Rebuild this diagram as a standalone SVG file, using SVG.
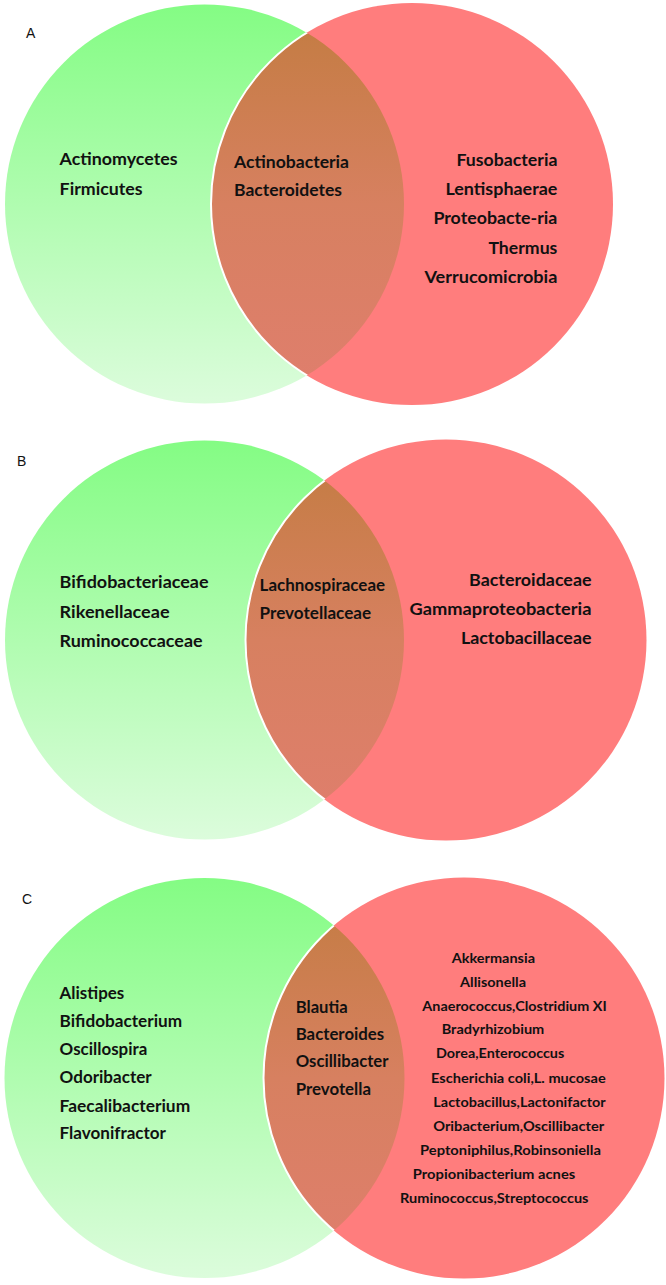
<svg xmlns="http://www.w3.org/2000/svg" width="666" height="1285" viewBox="0 0 666 1285">
<defs>
<linearGradient id="gGreen" x1="0" y1="0" x2="0" y2="1">
<stop offset="0" stop-color="#84fc84"/>
<stop offset="1" stop-color="#dcfcdc"/>
</linearGradient>
<linearGradient id="gOver" x1="0" y1="0" x2="0" y2="1">
<stop offset="0" stop-color="#c27c40"/>
<stop offset="0.5" stop-color="#d78060"/>
<stop offset="1" stop-color="#e07e6e"/>
</linearGradient>
<clipPath id="clipA"><circle cx="204.5" cy="204" r="199.5"/></clipPath>
<clipPath id="clipB"><circle cx="204.5" cy="640" r="199.5"/></clipPath>
<clipPath id="clipC"><circle cx="204.5" cy="1078" r="200"/></clipPath>
</defs>
<style>
.green{fill:url(#gGreen);}
.red{fill:#ff7d7d;}
.over{fill:url(#gOver);}
.rim{fill:none;stroke:#ffffff;stroke-width:2;}
.t{font-family:Lato,"Open Sans","Liberation Sans",sans-serif;font-weight:bold;font-size:17px;fill:#111111;}
.s{font-family:Lato,"Open Sans","Liberation Sans",sans-serif;font-weight:bold;font-size:14px;fill:#111111;}
.lbl{font-family:"Liberation Sans",Arial,sans-serif;font-size:14px;fill:#111111;}
</style>
<rect width="666" height="1285" fill="#ffffff"/>

<g id="panel-a">
<text class="lbl" x="26" y="38">A</text>
<g id="a-left">
<circle class="green" cx="204.5" cy="204" r="199.5"/>
</g>
<g id="a-right">
<circle class="red" cx="412" cy="204" r="201"/>
</g>
<g id="a-overlap">
<circle class="over" cx="412" cy="204" r="201" clip-path="url(#clipA)"/>
<circle class="rim" cx="412" cy="204" r="201" clip-path="url(#clipA)"/>
</g>
<g id="a-left-text">
<text class="t" x="59.6" y="165" textLength="118" lengthAdjust="spacingAndGlyphs">Actinomycetes</text>
<text class="t" x="59.6" y="195" textLength="83" lengthAdjust="spacingAndGlyphs">Firmicutes</text>
</g>
<g id="a-overlap-text">
<text class="t" x="234" y="168" textLength="115" lengthAdjust="spacingAndGlyphs">Actinobacteria</text>
<text class="t" x="234" y="196" textLength="108" lengthAdjust="spacingAndGlyphs">Bacteroidetes</text>
</g>
<g id="a-right-text">
<text class="t" x="456.4" y="166" textLength="101" lengthAdjust="spacingAndGlyphs">Fusobacteria</text>
<text class="t" x="445.4" y="195" textLength="112" lengthAdjust="spacingAndGlyphs">Lentisphaerae</text>
<text class="t" x="433.4" y="224" textLength="124" lengthAdjust="spacingAndGlyphs">Proteobacte-ria</text>
<text class="t" x="488.4" y="254" textLength="69" lengthAdjust="spacingAndGlyphs">Thermus</text>
<text class="t" x="424.4" y="283" textLength="133" lengthAdjust="spacingAndGlyphs">Verrucomicrobia</text>
</g>
</g>

<g id="panel-b">
<text class="lbl" x="17" y="466">B</text>
<g id="b-left">
<circle class="green" cx="204.5" cy="640" r="199.5"/>
</g>
<g id="b-right">
<circle class="red" cx="446" cy="640" r="200.5"/>
</g>
<g id="b-overlap">
<circle class="over" cx="446" cy="640" r="200.5" clip-path="url(#clipB)"/>
<circle class="rim" cx="446" cy="640" r="200.5" clip-path="url(#clipB)"/>
</g>
<g id="b-left-text">
<text class="t" x="59.6" y="588" textLength="149" lengthAdjust="spacingAndGlyphs">Bifidobacteriaceae</text>
<text class="t" x="59.6" y="618" textLength="110" lengthAdjust="spacingAndGlyphs">Rikenellaceae</text>
<text class="t" x="59.6" y="647" textLength="143" lengthAdjust="spacingAndGlyphs">Ruminococcaceae</text>
</g>
<g id="b-overlap-text">
<text class="t" x="259.6" y="591" textLength="125.5" lengthAdjust="spacingAndGlyphs">Lachnospiraceae</text>
<text class="t" x="259.6" y="619" textLength="111.5" lengthAdjust="spacingAndGlyphs">Prevotellaceae</text>
</g>
<g id="b-right-text">
<text class="t" x="469" y="586" textLength="122.5" lengthAdjust="spacingAndGlyphs">Bacteroidaceae</text>
<text class="t" x="409.5" y="615" textLength="182" lengthAdjust="spacingAndGlyphs">Gammaproteobacteria</text>
<text class="t" x="460.9" y="644" textLength="130.6" lengthAdjust="spacingAndGlyphs">Lactobacillaceae</text>
</g>
</g>

<g id="panel-c">
<text class="lbl" x="22" y="904">C</text>
<g id="c-left">
<circle class="green" cx="204.5" cy="1078" r="200"/>
</g>
<g id="c-right">
<circle class="red" cx="464" cy="1078" r="200.5"/>
</g>
<g id="c-overlap">
<circle class="over" cx="464" cy="1078" r="200.5" clip-path="url(#clipC)"/>
<circle class="rim" cx="464" cy="1078" r="200.5" clip-path="url(#clipC)"/>
</g>
<g id="c-left-text">
<text class="t" x="59.6" y="999" textLength="64.7" lengthAdjust="spacingAndGlyphs">Alistipes</text>
<text class="t" x="59.6" y="1027" textLength="122.5" lengthAdjust="spacingAndGlyphs">Bifidobacterium</text>
<text class="t" x="59.6" y="1055" textLength="87.7" lengthAdjust="spacingAndGlyphs">Oscillospira</text>
<text class="t" x="59.6" y="1083" textLength="92" lengthAdjust="spacingAndGlyphs">Odoribacter</text>
<text class="t" x="59.6" y="1112" textLength="130.6" lengthAdjust="spacingAndGlyphs">Faecalibacterium</text>
<text class="t" x="59.6" y="1139" textLength="106.4" lengthAdjust="spacingAndGlyphs">Flavonifractor</text>
</g>
<g id="c-overlap-text">
<text class="t" x="295.7" y="1013" textLength="52" lengthAdjust="spacingAndGlyphs">Blautia</text>
<text class="t" x="295.7" y="1040" textLength="88.5" lengthAdjust="spacingAndGlyphs">Bacteroides</text>
<text class="t" x="295.7" y="1067" textLength="92.8" lengthAdjust="spacingAndGlyphs">Oscillibacter</text>
<text class="t" x="295.7" y="1095" textLength="75.3" lengthAdjust="spacingAndGlyphs">Prevotella</text>
</g>
<g id="c-right-text">
<text class="s" x="451.7" y="962.7" textLength="83.3" lengthAdjust="spacingAndGlyphs">Akkermansia</text>
<text class="s" x="460" y="986.7" textLength="66" lengthAdjust="spacingAndGlyphs">Allisonella</text>
<text class="s" x="422.3" y="1010.7" textLength="184.4" lengthAdjust="spacingAndGlyphs">Anaerococcus,Clostridium XI</text>
<text class="s" x="441.7" y="1034.3" textLength="102.6" lengthAdjust="spacingAndGlyphs">Bradyrhizobium</text>
<text class="s" x="436" y="1058.3" textLength="128.3" lengthAdjust="spacingAndGlyphs">Dorea,Enterococcus</text>
<text class="s" x="431" y="1082.7" textLength="174.7" lengthAdjust="spacingAndGlyphs">Escherichia coli,L. mucosae</text>
<text class="s" x="433.3" y="1106.7" textLength="172.4" lengthAdjust="spacingAndGlyphs">Lactobacillus,Lactonifactor</text>
<text class="s" x="433.2" y="1131" textLength="171.1" lengthAdjust="spacingAndGlyphs">Oribacterium,Oscillibacter</text>
<text class="s" x="420" y="1155" textLength="180.9" lengthAdjust="spacingAndGlyphs">Peptoniphilus,Robinsoniella</text>
<text class="s" x="412.8" y="1179" textLength="162.5" lengthAdjust="spacingAndGlyphs">Propionibacterium acnes</text>
<text class="s" x="400" y="1203" textLength="188.5" lengthAdjust="spacingAndGlyphs">Ruminococcus,Streptococcus</text>
</g>
</g>
</svg>
